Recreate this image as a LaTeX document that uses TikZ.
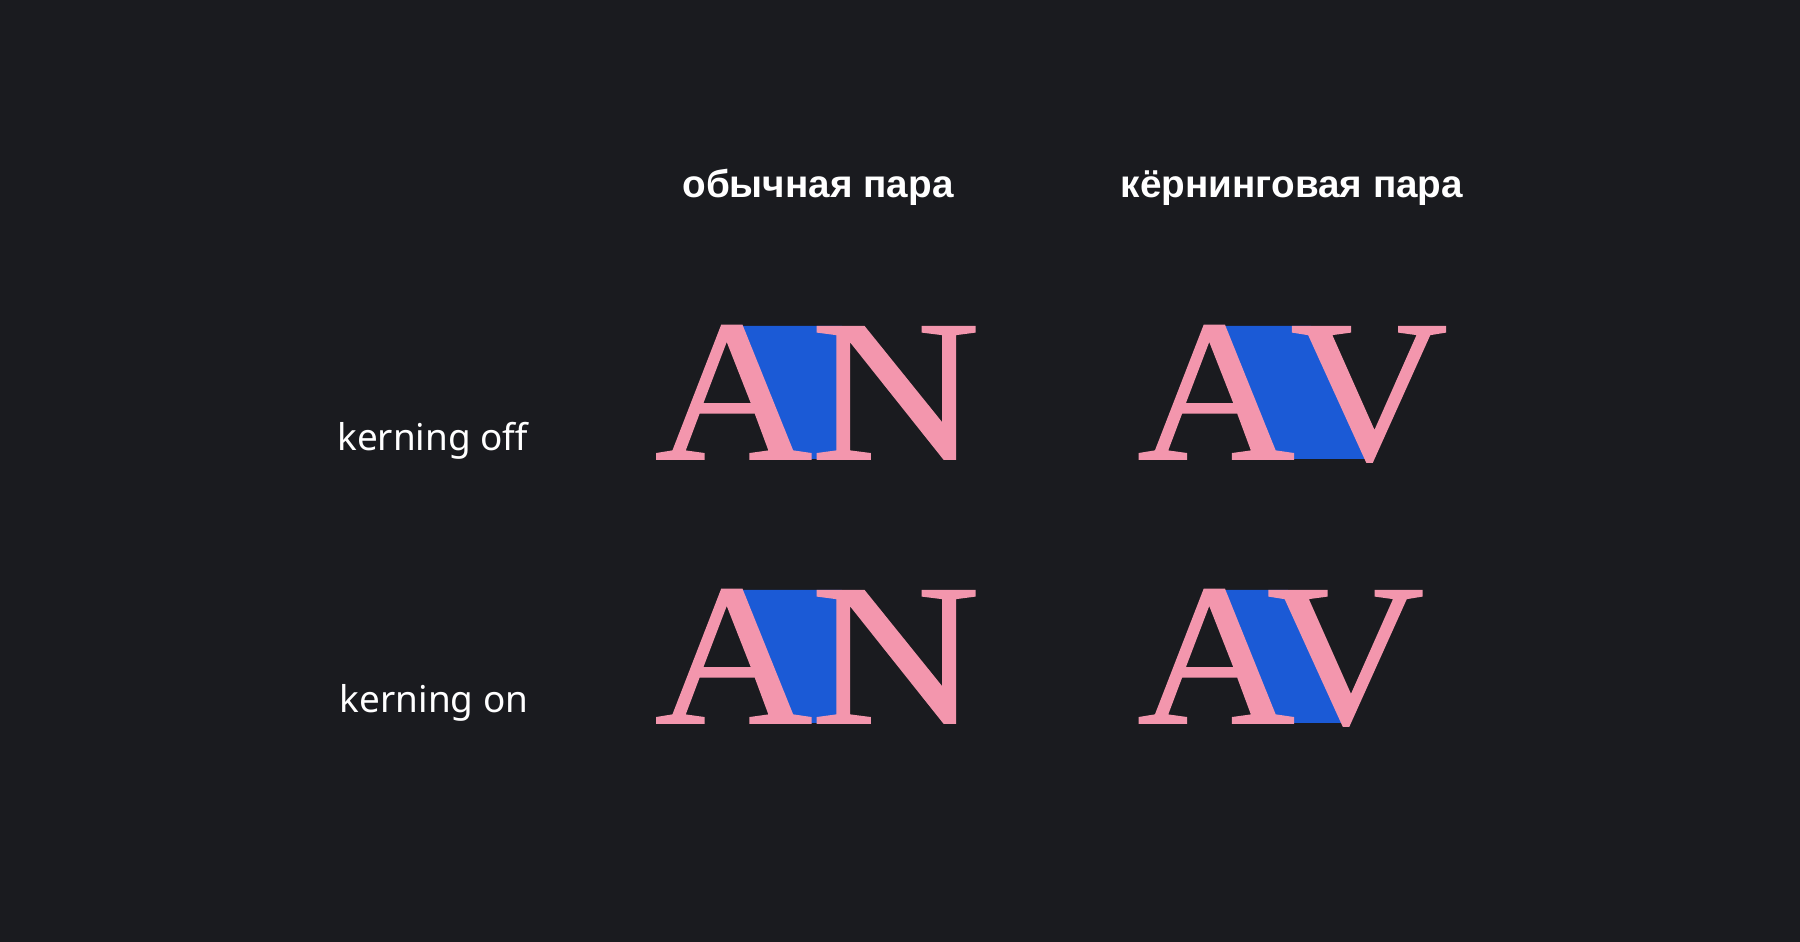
\documentclass[tikz,border=0pt]{standalone}
\usepackage{fontspec}
\setmainfont{Noto Sans}
\newfontfamily\headfont{Liberation Sans}
\newfontfamily\glyphfont[FakeStretch=1.08, FakeBold=0.8]{Liberation Serif}
\usetikzlibrary{positioning}
\definecolor{bgdark}{RGB}{26,27,31}
\definecolor{glyphpink}{RGB}{243,150,173}
\definecolor{gapblue}{RGB}{27,90,214}

\begin{document}
\begin{tikzpicture}[
    head/.style={text=white, font=\headfont\bfseries\fontsize{11}{14}\selectfont,
                 anchor=base, inner sep=0pt},
    rowlabel/.style={text=white, font=\fontsize{10.5}{13}\selectfont,
                     anchor=base east, inner sep=0pt},
    glyph/.style={text=glyphpink, font=\glyphfont\fontsize{57.5}{60}\selectfont,
                  anchor=base, inner sep=0pt},
    gap/.style={fill=gapblue},
]
    \fill[bgdark] (0,0) rectangle (18,9.42);

    % column heads
    \node[head] (plain) at (8.18,7.44) {обычная пара};
    \node[head] (kernpair) at (12.92,7.44) {кёрнинговая пара};

    % row labels
    \node[rowlabel] (off) at (5.29,4.91) {kerning off};
    \node[rowlabel] (on) at (5.29,2.29) {kerning on};

    % space between the letters
    \fill[gap] (7.36,6.16) -- (8.42,6.16) -- (8.42,4.83) -- (7.92,4.83) -- cycle;
    \fill[gap] (12.18,6.16) -- (13.11,6.16) -- (13.69,4.83) -- (12.74,4.83) -- cycle;
    \fill[gap] (7.36,3.52) -- (8.42,3.52) -- (8.42,2.19) -- (7.92,2.19) -- cycle;
    \fill[gap] (12.18,3.52) -- (12.88,3.52) -- (13.46,2.19) -- (12.74,2.19) -- cycle;

    % kerning off
    \node[glyph] (a1) at (7.335,4.83) {A};
    \node[glyph] (n1) at (8.955,4.83) {\scalebox{1.075}[1]{N}};
    \node[glyph] (a2) at (12.16,4.83) {A};
    \node[glyph] (v2) at (13.69,4.83) {V};

    % kerning on
    \node[glyph] (a3) at (7.335,2.19) {A};
    \node[glyph] (n3) at (8.955,2.19) {\scalebox{1.075}[1]{N}};
    \node[glyph] (a4) at (12.16,2.19) {A};
    \node[glyph] (v4) at (13.455,2.19) {V};
\end{tikzpicture}
\end{document}
